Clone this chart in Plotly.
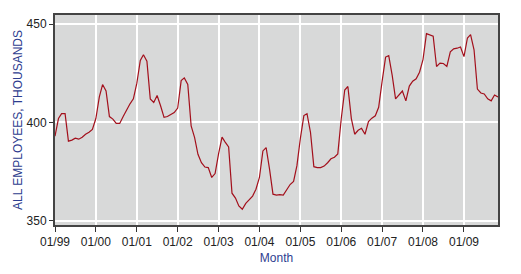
import pandas as pd
import plotly.graph_objects as go

months = pd.date_range("1999-01-01", "2009-11-01", freq="MS")

employees = [
    # 1999
    393, 402, 404.5, 404.5, 390.5, 391, 392, 391.5, 392.5, 394, 395, 396.5,
    # 2000
    402, 413, 419.3, 416, 403, 401.7, 399.5, 399.5, 403, 406.5, 409.5, 412,
    # 2001
    420, 431.6, 434.5, 431.2, 412, 410.2, 413.7, 408.5, 402.6, 403, 404, 405,
    # 2002
    407.3, 421.3, 422.7, 419.3, 398.3, 392.3, 383.8, 379.5, 377.3, 377, 372, 374,
    # 2003
    384, 392.5, 390, 387.5, 364, 361.5, 357.5, 355.8, 358.8, 360.5, 362.5, 366,
    # 2004
    372, 385.5, 387.2, 376, 363.5, 363, 363.3, 363, 365.5, 368.4, 370, 378,
    # 2005
    392, 403.5, 404.5, 395, 377.5, 377, 377, 377.8, 379.5, 381.5, 382.3, 384,
    # 2006
    402, 416.5, 418.3, 402, 394, 396, 397, 394, 400.5, 402.2, 403.4, 407.7,
    # 2007
    421, 433.3, 434, 424, 412, 414.2, 416, 411, 418.5, 421, 422.2, 425.6,
    # 2008
    432, 445.2, 444.5, 443.9, 428.5, 430.2, 430, 428.5, 436, 437.5, 437.8, 438.4,
    # 2009
    433.5, 443, 444.7, 437, 417, 415, 414.5, 412, 411, 414, 413,
]

y_ticks = [350, 400, 450]

fig = go.Figure()
fig.add_trace(go.Scatter(
    x=months, y=employees, mode="lines",
    line=dict(color="#a3101c", width=1.2),
    showlegend=False,
))

fig.update_layout(
    width=521, height=274,
    margin=dict(l=55, r=23, t=15, b=49),
    paper_bgcolor="white",
    plot_bgcolor="#d8d9d9",
    font=dict(family="Liberation Sans, Arial, sans-serif", size=12, color="#222222"),
)

fig.update_xaxes(
    range=[months[0], months[-1]],
    tickformat="%m/%y",
    tick0="1999-01-01", dtick="M12",
    ticks="outside", ticklen=5, tickcolor="#333333",
    showgrid=True, gridcolor="white", gridwidth=1.5,
    showline=True, linecolor="#444444", linewidth=2, mirror=True,
    tickfont=dict(size=12, color="#222222"),
    title=dict(text="Month", font=dict(size=12, color="#2e3d8f"), standoff=5),
    zeroline=False,
)
fig.update_yaxes(
    range=[347.8, 454.7],
    tickvals=y_ticks,
    ticks="outside", ticklen=4, tickcolor="#333333",
    showgrid=True, gridcolor="white", gridwidth=1.5,
    showline=True, linecolor="#444444", linewidth=2, mirror=True,
    tickfont=dict(size=12, color="#222222"),
    title=dict(text="ALL EMPLOYEES, THOUSANDS", font=dict(size=12, color="#2e3d8f"), standoff=1),
    zeroline=False,
)

fig.write_html("out.html")
